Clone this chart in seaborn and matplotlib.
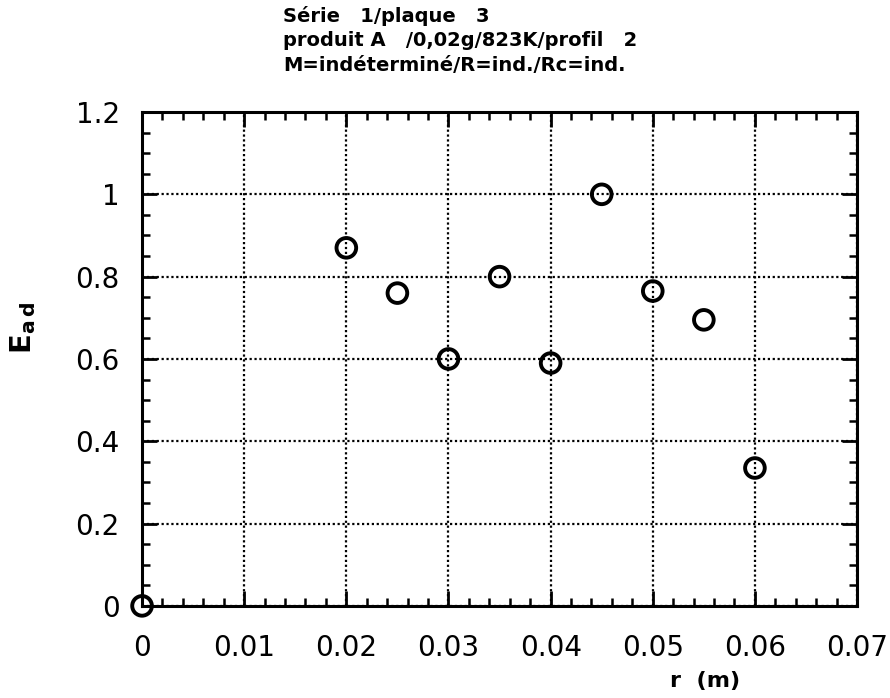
import numpy as np
import pandas as pd
import matplotlib
matplotlib.use("Agg")
import matplotlib.pyplot as plt
import seaborn as sns
from matplotlib.ticker import MultipleLocator

# data
r_m = [0.0, 0.02, 0.025, 0.03, 0.035, 0.04, 0.045, 0.05, 0.055, 0.06]
e_ad = [0.0, 0.87, 0.76, 0.60, 0.80, 0.59, 1.00, 0.765, 0.695, 0.335]
x_ticks = [0, 0.01, 0.02, 0.03, 0.04, 0.05, 0.06, 0.07]
x_labels = ["0", "0.01", "0.02", "0.03", "0.04", "0.05", "0.06", "0.07"]
y_ticks = [0, 0.2, 0.4, 0.6, 0.8, 1.0, 1.2]
y_labels = ["0", "0.2", "0.4", "0.6", "0.8", "1", "1.2"]
title_lines = ["Série   1/plaque   3",
               "produit A   /0,02g/823K/profil   2",
               "M=indéterminé/R=ind./Rc=ind."]

sns.set_theme(style="white")
plt.rcParams['font.family'] = ['DejaVu Sans']
plt.rcParams.update({'text.color': 'black', 'axes.labelcolor': 'black',
                     'xtick.color': 'black', 'ytick.color': 'black'})

df = pd.DataFrame({"r": r_m, "E": e_ad})

fig = plt.figure(figsize=(8.9, 6.98), dpi=100)
ax = fig.add_axes([0.1596, 0.132, 0.8034, 0.7075])

sns.scatterplot(data=df, x="r", y="E", marker="o", s=200, facecolor="none",
                edgecolor="black", linewidth=2.8, ax=ax, clip_on=False, zorder=5)

ax.set_xlim(0, 0.07)
ax.set_ylim(0, 1.2)
ax.set_xticks(x_ticks)
ax.set_xticklabels(x_labels)
ax.set_yticks(y_ticks)
ax.set_yticklabels(y_labels)
ax.xaxis.set_minor_locator(MultipleLocator(0.002))
ax.yaxis.set_minor_locator(MultipleLocator(0.05))

ax.grid(True, which="major", color="black", linestyle=(0, (1, 1.2)), linewidth=1.6)
ax.tick_params(which="both", direction="in", top=True, right=True, bottom=True,
               left=True, color="black", labelsize=20)
ax.tick_params(axis="x", pad=20)
ax.tick_params(axis="y", pad=16)
ax.tick_params(which="major", length=11, width=2)
ax.tick_params(which="minor", length=6, width=1.8)
for s in ax.spines.values():
    s.set_color("black")
    s.set_linewidth(2.2)

ax.set_xlabel("r  (m)", fontsize=16, fontweight="bold")
ax.xaxis.set_label_coords(0.787, -0.132)
ax.set_ylabel(r"$\mathbf{E_{a\,d}}$", fontsize=21)
ax.yaxis.set_label_coords(-0.145, 0.563)

fig.text(0.318, 0.992, "\n".join(title_lines), ha="left", va="top",
         fontsize=14, fontweight="bold", linespacing=1.38)

fig.savefig("out.png", dpi=100)
